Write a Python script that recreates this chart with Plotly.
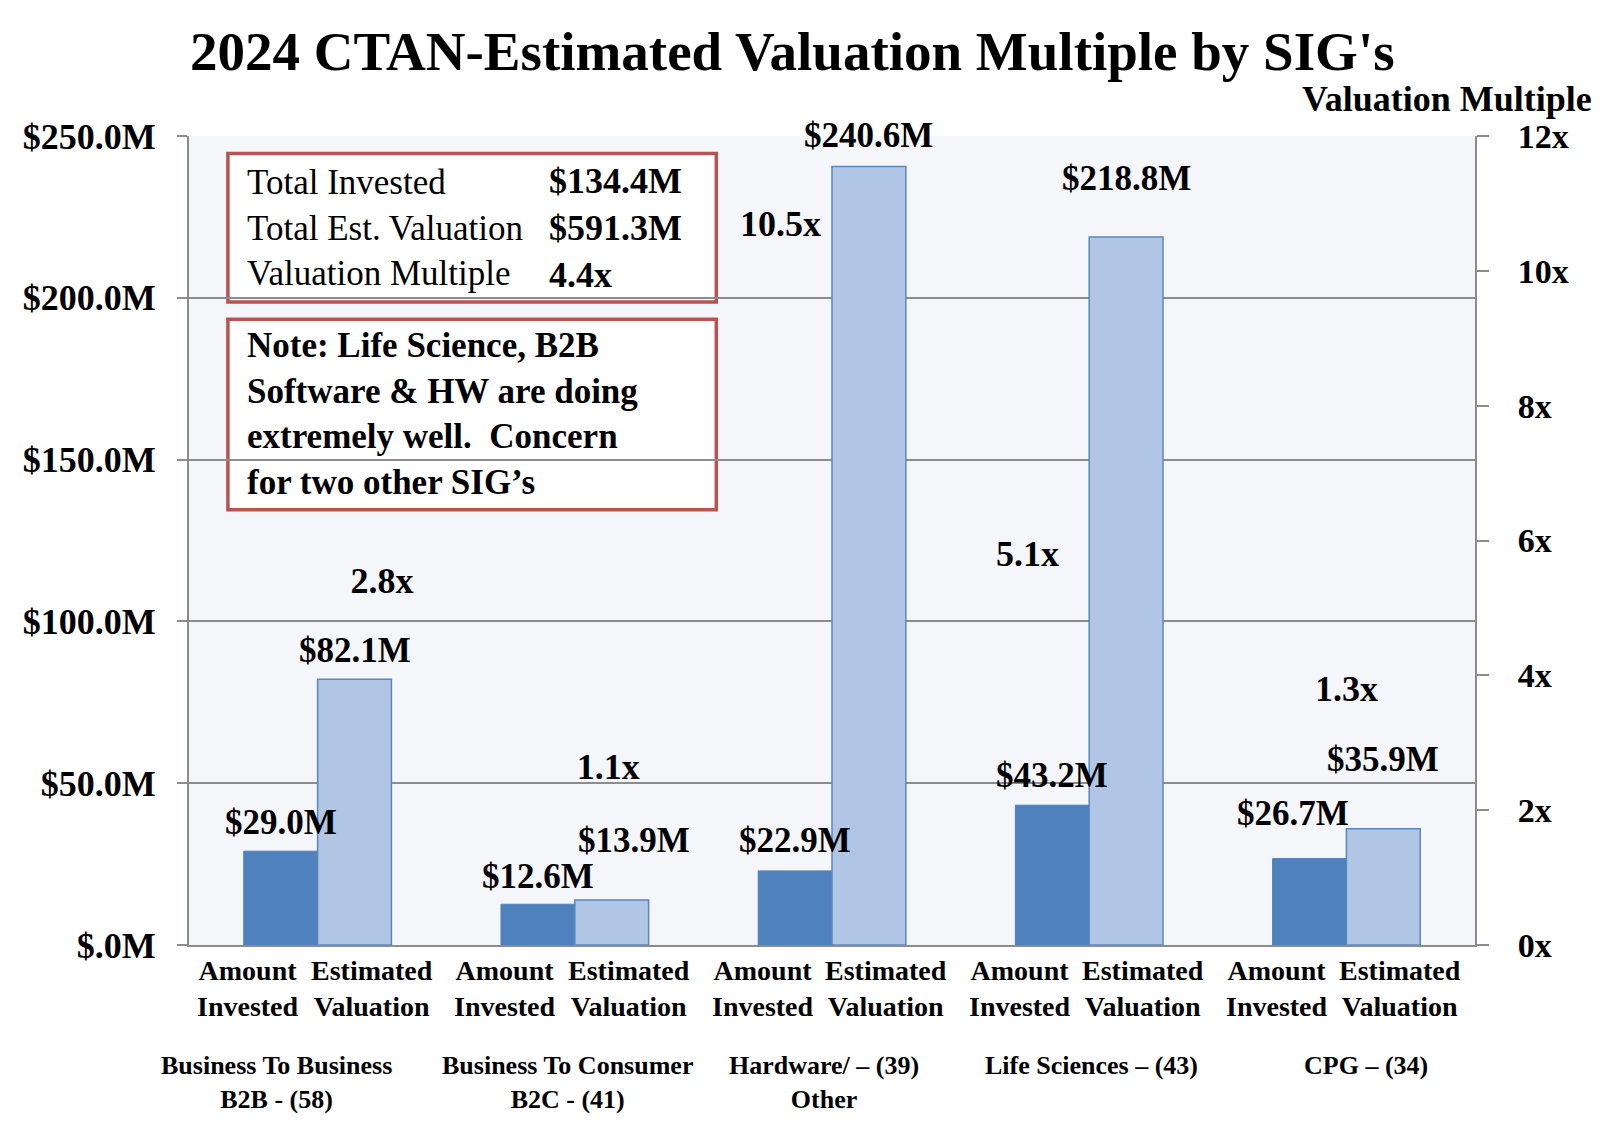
import plotly.graph_objects as go

# SIG groups and their two bars
groups = ["Business To Business<br>B2B - (58)", "Business To Consumer<br>B2C - (41)",
          "Hardware/ – (39)<br>Other", "Life Sciences – (43)", "CPG – (34)"]
bar_names = ["Amount<br>Invested", "Estimated<br>Valuation"]
invested = [29.0, 12.6, 22.9, 43.2, 26.7]
valuation = [82.1, 13.9, 240.6, 218.8, 35.9]
multiples = [2.8, 1.1, 10.5, 5.1, 1.3]

# label placement tweaks (px above the bar top / sideways), as in the original
inv_lift = [29, 28, 30, 30, 45]
inv_dx = [0, 0, 0, 0, -16]
val_lift = [29, 60, 31, 58, 69]
val_dx = [0, 22, 0, 0, 0]

# where each multiple label sits (x offset within the group, height on the multiple axis)
mult_label_dx = [0.25, 0.13, -0.2, -0.24, 0.0]
mult_label_y = [5.35, 2.6, 10.65, 5.75, 3.75]

# group label shift within each group
group_dx = [-0.16, -0.03, -0.03, 0.01, 0.075]

left_ticks = [0, 50, 100, 150, 200, 250]
left_tick_text = ["$.0M", "$50.0M", "$100.0M", "$150.0M", "$200.0M", "$250.0M"]
right_ticks = [0, 2, 4, 6, 8, 10, 12]
right_tick_text = ["0x", "2x", "4x", "6x", "8x", "10x", "12x"]

summary_labels = ["Total Invested", "Total Est. Valuation", "Valuation Multiple"]
summary_values = ["$134.4M", "$591.3M", "4.4x"]
note_text = ("Note: Life Science, B2B<br>Software & HW are doing<br>"
             "extremely well.  Concern<br>for two other SIG’s")

FONT = "Liberation Serif, DejaVu Serif, serif"
DARK = "#4F81BD"
LIGHT = "#B0C6E4"
GRID = "#8C8C8C"
RED = "#B85450"
HALF = 0.1435  # bar centre offset from group centre


def bold(size):
    return dict(family=FONT, size=size, color="black", weight="bold")


xpos = list(range(len(groups)))

fig = go.Figure()
fig.add_trace(go.Bar(
    x=xpos, y=invested, name="Amount Invested",
    marker=dict(color=DARK, line=dict(color=DARK, width=1)),
))
fig.add_trace(go.Bar(
    x=xpos, y=valuation, name="Estimated Valuation",
    marker=dict(color=LIGHT, line=dict(color="#5B87BE", width=1.5)),
))

# multiple labels on the right axis
fig.add_trace(go.Scatter(
    x=[x + d for x, d in zip(xpos, mult_label_dx)], y=mult_label_y, yaxis="y2",
    mode="text", text=[f"{m:.1f}x" for m in multiples],
    textfont=bold(36), showlegend=False, cliponaxis=False,
))

annotations = []
# value labels above the bars
for i in xpos:
    annotations.append(dict(
        x=i - HALF, y=invested[i], xref="x", yref="y", text=f"${invested[i]:.1f}M",
        showarrow=False, yanchor="middle", yshift=inv_lift[i], xshift=inv_dx[i],
        font=bold(35),
    ))
    annotations.append(dict(
        x=i + HALF, y=valuation[i], xref="x", yref="y", text=f"${valuation[i]:.1f}M",
        showarrow=False, yanchor="middle", yshift=val_lift[i], xshift=val_dx[i],
        font=bold(35),
    ))

# bar sub-labels and group labels under the axis
sub_dx = [-0.27, 0.21]
for i, g in enumerate(groups):
    for j, b in enumerate(bar_names):
        annotations.append(dict(
            x=i + sub_dx[j], xref="x", y=-0.01, yref="paper",
            text=b, showarrow=False, yanchor="top", font=bold(28),
        ))
    annotations.append(dict(
        x=i + group_dx[i], xref="x", y=-0.128, yref="paper", text=g,
        showarrow=False, yanchor="top", font=bold(26),
    ))

# summary box
annotations.append(dict(
    x=55 / 1256, xref="paper", y=0.886, yref="paper",
    text="<br>".join(summary_labels), showarrow=False, xanchor="left",
    yanchor="middle", align="left", font=dict(family=FONT, size=35, color="black"),
))
annotations.append(dict(
    x=350 / 1256, xref="paper", y=0.886, yref="paper",
    text="<br>".join(summary_values), showarrow=False,
    xanchor="left", yanchor="middle", align="left", font=bold(36),
))
annotations.append(dict(
    x=55 / 1256, xref="paper", y=0.656, yref="paper",
    text=note_text, showarrow=False, xanchor="left",
    yanchor="middle", align="left", font=bold(35),
))
annotations.append(dict(
    x=(1557 - 185) / 1256, xref="paper", y=1 + 36 / 790, yref="paper",
    text="Valuation Multiple", showarrow=False, xanchor="right",
    yanchor="middle", font=bold(36),
))
annotations.append(dict(
    x=(774 - 185) / 1256, xref="paper", y=1 + 83 / 790, yref="paper",
    text="2024 CTAN-Estimated Valuation Multiple by SIG's", showarrow=False,
    xanchor="center", yanchor="middle", font=bold(55),
))

shapes = [
    dict(type="rect", xref="paper", yref="paper",
         x0=38 / 1256, x1=515 / 1256, y0=1 - 162 / 790, y1=1 - 17 / 790,
         line=dict(color=RED, width=3.5), fillcolor="white", layer="below"),
    dict(type="rect", xref="paper", yref="paper",
         x0=38 / 1256, x1=515 / 1256, y0=1 - 365 / 790, y1=1 - 179 / 790,
         line=dict(color=RED, width=3.5), fillcolor="white", layer="below"),
]

fig.update_layout(
    width=1590, height=1110,
    margin=dict(l=181, r=123, t=128, b=173),
    paper_bgcolor="white", plot_bgcolor="#F4F6FA",
    barmode="group", bargap=0.426, bargroupgap=0,
    showlegend=False,
    xaxis=dict(range=[-0.5, 4.5], showticklabels=False, showgrid=False,
               showline=True, linecolor=GRID, linewidth=2, zeroline=False),
    yaxis=dict(range=[0, 250], tickvals=left_ticks, ticktext=left_tick_text,
               showgrid=True, gridcolor=GRID, gridwidth=2, showline=True,
               linecolor=GRID, linewidth=2, ticks="outside", ticklen=10,
               tickcolor=GRID, tickwidth=2, zeroline=False, tickfont=bold(36),
               ticklabelstandoff=14),
    yaxis2=dict(range=[0, 12], tickvals=right_ticks, ticktext=right_tick_text,
                overlaying="y", side="right", showgrid=False, showline=True,
                linecolor=GRID, linewidth=2, ticks="outside", ticklen=12,
                tickcolor=GRID, tickwidth=2, zeroline=False, tickfont=bold(34),
                ticklabelstandoff=22),
    annotations=annotations,
    shapes=shapes,
)

fig.write_html("out.html")
